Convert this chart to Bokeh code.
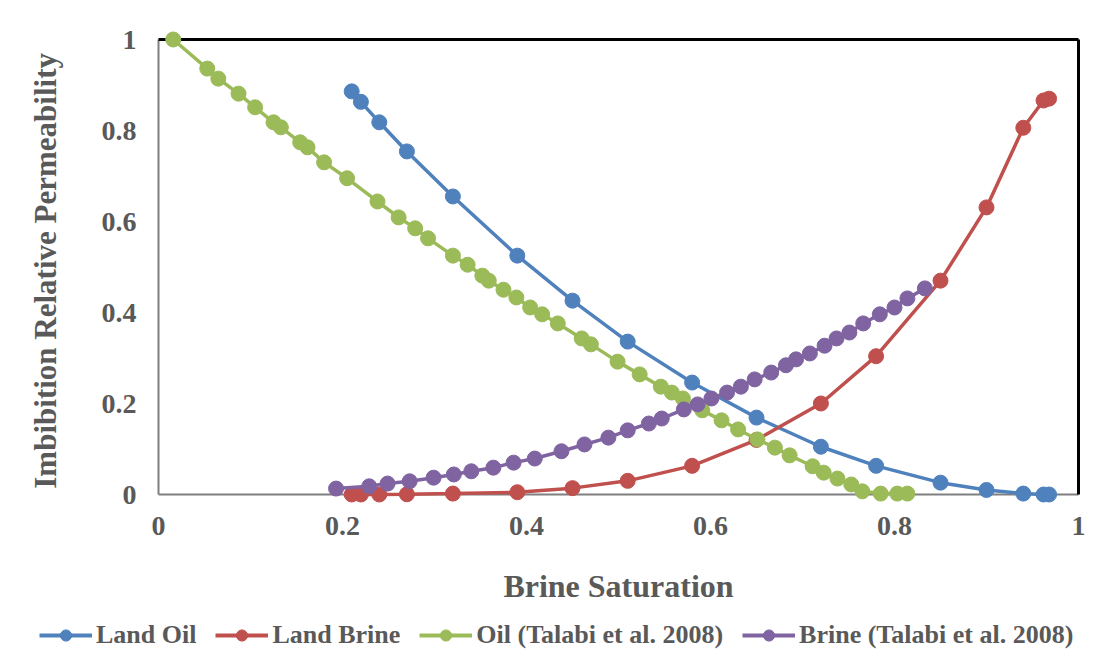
from bokeh.plotting import figure
from bokeh.models import Range1d, FixedTicker, NumeralTickFormatter, Legend, LegendItem
from bokeh.embed import file_html
from bokeh.resources import INLINE

# ---- data ----
land_sw = [0.21, 0.22, 0.24, 0.27, 0.32, 0.39, 0.45, 0.51, 0.58, 0.65, 0.72, 0.78, 0.85, 0.90, 0.94, 0.962, 0.968]
land_oil = [0.886, 0.863, 0.818, 0.754, 0.655, 0.525, 0.426, 0.336, 0.246, 0.169, 0.105, 0.063, 0.026, 0.010, 0.002, 0.0, 0.0]
land_brine = [0.0, 0.0, 0.0, 0.0005, 0.002, 0.005, 0.014, 0.030, 0.063, 0.120, 0.200, 0.304, 0.470, 0.631, 0.806, 0.866, 0.870]

oil_tal_sw = [0.016, 0.053, 0.065, 0.087, 0.105, 0.125, 0.133, 0.154, 0.162, 0.180, 0.205, 0.238,
              0.261, 0.279, 0.293, 0.320, 0.336, 0.352, 0.359, 0.375, 0.389, 0.404, 0.417, 0.434,
              0.460, 0.470, 0.499, 0.523, 0.546, 0.558, 0.570, 0.591, 0.612, 0.630, 0.651, 0.670,
              0.686, 0.711, 0.723, 0.738, 0.753, 0.765, 0.785, 0.803, 0.814]
oil_tal_kr = [1.000, 0.936, 0.914, 0.881, 0.851, 0.818, 0.807, 0.774, 0.763, 0.730, 0.695, 0.644,
              0.609, 0.585, 0.563, 0.525, 0.505, 0.481, 0.470, 0.450, 0.433, 0.411, 0.396, 0.376,
              0.343, 0.330, 0.292, 0.264, 0.237, 0.224, 0.211, 0.185, 0.163, 0.143, 0.121, 0.103,
              0.086, 0.062, 0.048, 0.035, 0.022, 0.007, 0.002, 0.002, 0.002]

brine_tal_sw = [0.193, 0.229, 0.249, 0.273, 0.299, 0.321, 0.340, 0.364, 0.386, 0.409, 0.438, 0.463,
                0.489, 0.510, 0.533, 0.547, 0.571, 0.586, 0.601, 0.618, 0.633, 0.648, 0.666, 0.682,
                0.693, 0.708, 0.724, 0.737, 0.751, 0.766, 0.784, 0.800, 0.814, 0.833]
brine_tal_kr = [0.013, 0.018, 0.024, 0.029, 0.037, 0.044, 0.051, 0.059, 0.070, 0.079, 0.095, 0.110,
                0.125, 0.141, 0.156, 0.167, 0.187, 0.198, 0.211, 0.224, 0.237, 0.253, 0.268, 0.284,
                0.297, 0.310, 0.327, 0.343, 0.356, 0.376, 0.396, 0.411, 0.431, 0.453]

series_names = ["Land Oil", "Land Brine", "Oil (Talabi et al. 2008)", "Brine (Talabi et al. 2008)"]
series_colors = ["#4F81BD", "#C0504D", "#9BBB59", "#8064A2"]
ticks = [0, 0.2, 0.4, 0.6, 0.8, 1]

FONT = "Liberation Serif"
TXT = "#595959"
LW, MS = 3.5, 15

XU, YU, PAD = 920.0, 455.0, 10.0
p = figure(width=1104, height=616, output_backend="svg", toolbar_location=None,
           x_range=Range1d(-PAD / XU, 1 + PAD / XU), y_range=Range1d(-PAD / YU, 1 + PAD / YU),
           min_border_left=148, min_border_right=16, min_border_top=29, min_border_bottom=112)
p.outline_line_color = None
p.grid.visible = False
p.background_fill_color = "white"
p.border_fill_color = "white"

# plot-area box: gray left/bottom, black top/right
p.segment(x0=[0, 0], y0=[0, 0], x1=[1, 0], y1=[0, 1], line_color="#7F7F7F", line_width=2, level="underlay")
p.segment(x0=[0, 1], y0=[1, 0], x1=[1, 1], y1=[1, 1], line_color="black", line_width=3, level="underlay")

for ax in (p.xaxis[0], p.yaxis[0]):
    ax.ticker = FixedTicker(ticks=ticks)
    ax.formatter = NumeralTickFormatter(format="0.[0]")
    ax.axis_line_color = None
    ax.major_tick_line_color = None
    ax.minor_tick_line_color = None
    ax.major_label_text_font = FONT
    ax.major_label_text_font_style = "bold"
    ax.major_label_text_font_size = "28px"
    ax.major_label_text_color = TXT
    ax.axis_label_text_font = FONT
    ax.axis_label_text_font_style = "bold"
    ax.axis_label_text_color = TXT

p.xaxis.axis_label = "Brine Saturation"
p.yaxis.axis_label = "Imbibition  Relative Permeability"
p.xaxis.axis_label_text_font_size = "32px"
p.yaxis.axis_label_text_font_size = "31px"
p.xaxis.major_label_standoff = 6
p.yaxis.major_label_standoff = 6
p.xaxis.axis_label_standoff = 30
p.yaxis.axis_label_standoff = 36

data = [(land_sw, land_oil), (land_sw, land_brine), (oil_tal_sw, oil_tal_kr), (brine_tal_sw, brine_tal_kr)]
for (xs, ys), col in zip(data, series_colors):
    p.line(xs, ys, line_color=col, line_width=LW)
    p.scatter(xs, ys, size=MS, fill_color=col, line_color=col)

# ---- legend strip below the chart (its own root, so its frame spans the full width) ----
# the proxy renderers carry the real series, but this strip's ranges keep them out of view
pl = figure(width=1104, height=34, output_backend="svg", toolbar_location=None,
            x_range=Range1d(5, 6), y_range=Range1d(5, 6), min_border=0,
            x_axis_location=None, y_axis_location=None)
pl.outline_line_color = None
pl.grid.visible = False
items = []
for (xs, ys), name, col in zip(data, series_names, series_colors):
    ln = pl.line(xs, ys, line_color=col, line_width=4)
    sc = pl.scatter(xs, ys, size=MS, fill_color=col, line_color=col)
    items.append(LegendItem(label=name, renderers=[ln, sc]))

legend = Legend(items=items, orientation="horizontal", location=(39, 0),
                glyph_width=53, glyph_height=28, label_standoff=4, spacing=19,
                padding=0, margin=0, border_line_color=None, background_fill_alpha=0,
                label_text_font=FONT, label_text_font_style="bold",
                label_text_font_size="26px", label_text_color=TXT)
pl.add_layout(legend, "center")

open("out.html", "w").write(file_html([p, pl], INLINE))
